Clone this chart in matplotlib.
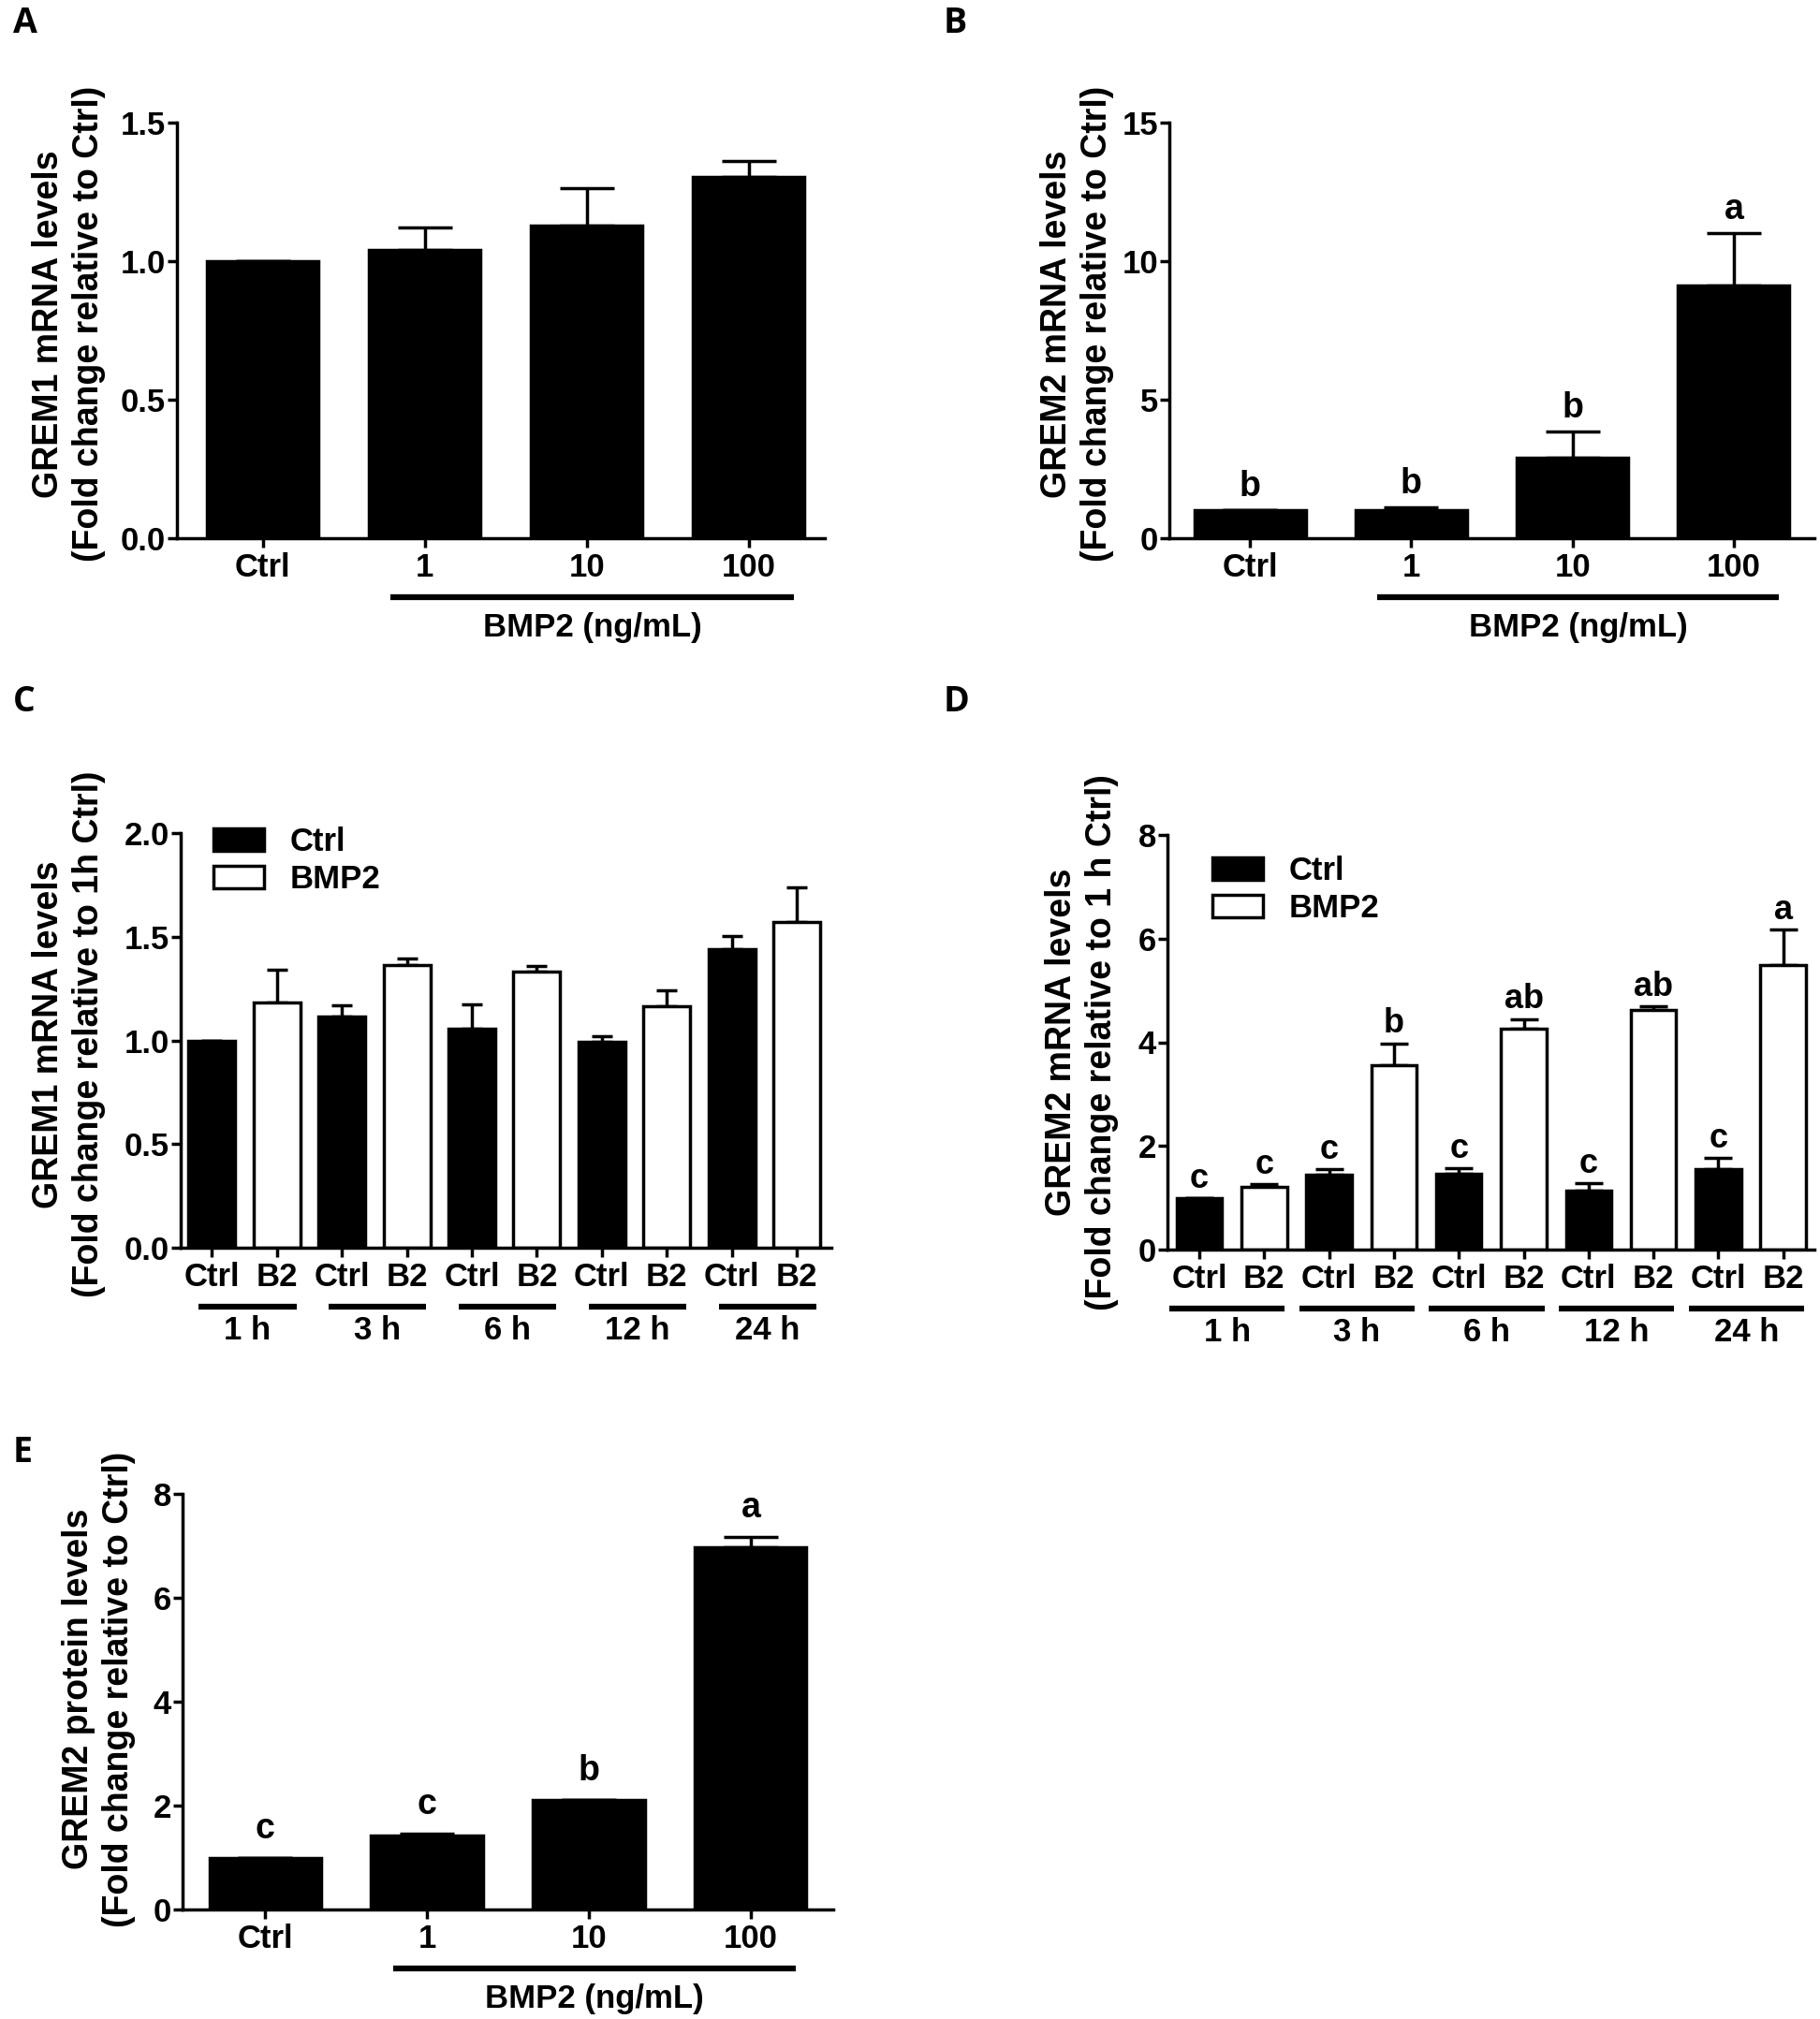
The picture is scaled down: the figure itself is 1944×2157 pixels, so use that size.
import matplotlib
matplotlib.use('Agg')
import matplotlib.pyplot as plt
import matplotlib.transforms as mtransforms
import numpy as np

plt.rcParams['font.family'] = ['Liberation Sans', 'DejaVu Sans']
plt.rcParams['font.weight'] = 'bold'
plt.rcParams['axes.labelweight'] = 'bold'

# ---- data ----
dose_labels = ['Ctrl', '1', '10', '100']

grem1_dose = [1.00, 1.04, 1.13, 1.305]
grem1_dose_err = [0.0, 0.08, 0.135, 0.055]

grem2_dose = [1.0, 1.0, 2.9, 9.13]
grem2_dose_err = [0.0, 0.12, 0.94, 1.87]
grem2_dose_sig = ['b', 'b', 'b', 'a']

time_labels = ['1 h', '3 h', '6 h', '12 h', '24 h']
pair_labels = ['Ctrl', 'B2']

grem1_ctrl = [1.00, 1.113, 1.057, 0.991, 1.44]
grem1_ctrl_err = [0.0, 0.056, 0.118, 0.031, 0.063]
grem1_bmp2 = [1.181, 1.362, 1.331, 1.163, 1.573]
grem1_bmp2_err = [0.16, 0.035, 0.026, 0.08, 0.164]

grem2_ctrl = [1.0, 1.443, 1.468, 1.144, 1.559]
grem2_ctrl_err = [0.0, 0.107, 0.099, 0.141, 0.207]
grem2_bmp2 = [1.21, 3.566, 4.262, 4.62, 5.49]
grem2_bmp2_err = [0.05, 0.414, 0.188, 0.08, 0.69]
grem2_ctrl_sig = ['c', 'c', 'c', 'c', 'c']
grem2_bmp2_sig = ['c', 'b', 'ab', 'ab', 'a']

prot_dose = [1.0, 1.424, 2.10, 6.98]
prot_dose_err = [0.0, 0.036, 0.015, 0.2]
prot_dose_sig = ['c', 'c', 'b', 'a']

W, H = 1944, 2157
LW = 2.5
TICK_FS = 25
LABEL_FS = 27


def AddAxes(fig, left, right, top, bottom):
    # pixel box -> figure fraction
    return fig.add_axes([left / W, 1 - bottom / H, (right - left) / W, (bottom - top) / H])


def StyleAxis(ax, ylim, yticks, fmt):
    ax.spines[['top', 'right']].set_visible(False)
    for s in ['left', 'bottom']:
        ax.spines[s].set_linewidth(LW)
    ax.tick_params(width=LW, length=7, labelsize=TICK_FS)
    ax.tick_params(axis='y', pad=1.5)
    ax.tick_params(axis='x', pad=4)
    ax.set_ylim(ylim)
    ax.set_yticks(yticks)
    ax.set_yticklabels([fmt.format(t) for t in yticks])


def DrawBars(ax, x, vals, errs, width, color, capsize):
    ax.bar(x, vals, width, color=color, edgecolor='black', linewidth=LW, zorder=2)
    ax.errorbar(x, vals, yerr=[np.zeros(len(errs)), errs], fmt='none', ecolor='black',
                elinewidth=LW, capsize=capsize, capthick=LW, zorder=1)


def DrawLetters(ax, x, vals, errs, letters, fs, off):
    for xi, v, e, s in zip(x, vals, errs, letters):
        ax.annotate(s, (xi, v + e), xytext=(0, off), textcoords='offset points',
                    ha='center', va='baseline', fontsize=fs)


def Bracket(ax, x0, x1, y, text, ytext, fs=TICK_FS):
    trans = mtransforms.blended_transform_factory(ax.transData, ax.transAxes)
    ax.plot([x0, x1], [y, y], color='black', lw=4.5, solid_capstyle='butt',
            transform=trans, clip_on=False)
    ax.text((x0 + x1) / 2, ytext, text, transform=trans, ha='center', va='center', fontsize=fs)


def DosePanel(ax, vals, errs, ylim, yticks, fmt, ylabel, letters=None, let_fs=26, let_off=11,
              xlim=(-0.5, 3.5), label_xy=(-0.1, 0.53)):
    x = np.arange(len(vals))
    DrawBars(ax, x, vals, errs, 0.69, 'black', 21)
    if letters:
        DrawLetters(ax, x, vals, errs, letters, let_fs, let_off)
    StyleAxis(ax, ylim, yticks, fmt)
    ax.set_xlim(xlim)
    ax.set_xticks(x)
    ax.set_xticklabels(dose_labels)
    ax.set_ylabel(ylabel, fontsize=LABEL_FS, linespacing=1.25)
    ax.yaxis.set_label_coords(*label_xy)
    Bracket(ax, 0.79, 3.28, -0.143, 'BMP2 (ng/mL)', -0.215)


def TimePanel(ax, ctrl, ctrl_err, bmp2, bmp2_err, ylim, yticks, fmt, ylabel, width, capsize,
              xlim, spans, label_xy, leg_anchor, ctrl_sig=None, bmp2_sig=None):
    xc = np.arange(len(ctrl)) * 2
    xb = xc + 1
    DrawBars(ax, xc, ctrl, ctrl_err, width, 'black', capsize)
    DrawBars(ax, xb, bmp2, bmp2_err, width, 'white', capsize)
    if ctrl_sig:
        DrawLetters(ax, xc, ctrl, ctrl_err, ctrl_sig, 26, 8)
        DrawLetters(ax, xb, bmp2, bmp2_err, bmp2_sig, 26, 8)
    StyleAxis(ax, ylim, yticks, fmt)
    ax.set_xlim(xlim)
    ticks = np.arange(len(ctrl) * 2)
    ax.set_xticks(ticks)
    ax.set_xticklabels(pair_labels * len(ctrl))
    ax.set_ylabel(ylabel, fontsize=LABEL_FS, linespacing=1.25)
    ax.yaxis.set_label_coords(*label_xy)
    for g, lab in enumerate(time_labels):
        Bracket(ax, 2 * g + spans[0], 2 * g + spans[1], -0.143, lab, -0.2)
    h1 = plt.Rectangle((0, 0), 1, 1, facecolor='black', edgecolor='black', linewidth=LW)
    h2 = plt.Rectangle((0, 0), 1, 1, facecolor='white', edgecolor='black', linewidth=LW)
    ax.legend([h1, h2], ['Ctrl', 'BMP2'], loc='upper left', bbox_to_anchor=leg_anchor,
              frameon=False, fontsize=TICK_FS, handlelength=1.55, handleheight=0.68,
              handletextpad=0.8, labelspacing=0.2, borderpad=0, borderaxespad=0)


fig = plt.figure(figsize=(W / 100, H / 100), dpi=100)

axA = AddAxes(fig, 189, 881, 131, 575)
DosePanel(axA, grem1_dose, grem1_dose_err, (0, 1.5), [0, 0.5, 1.0, 1.5], '{:.1f}',
          'GREM1 mRNA levels\n(Fold change relative to Ctrl)',
          xlim=(-0.53, 3.47), label_xy=(-0.11, 0.515))

axB = AddAxes(fig, 1249, 1938, 131, 575)
DosePanel(axB, grem2_dose, grem2_dose_err, (0, 15), [0, 5, 10, 15], '{:.0f}',
          'GREM2 mRNA levels\n(Fold change relative to Ctrl)',
          letters=grem2_dose_sig, let_fs=27, let_off=11, label_xy=(-0.085, 0.515))

axC = AddAxes(fig, 193, 888, 890, 1333)
TimePanel(axC, grem1_ctrl, grem1_ctrl_err, grem1_bmp2, grem1_bmp2_err, (0, 2.0),
          [0, 0.5, 1.0, 1.5, 2.0], '{:.1f}',
          'GREM1 mRNA levels\n(Fold change relative to 1h Ctrl)', 0.72, 8,
          (-0.48, 9.53), (-0.2, 1.3), (-0.115, 0.515), (0.05, 1.015))

axD = AddAxes(fig, 1247, 1938, 892, 1335)
TimePanel(axD, grem2_ctrl, grem2_ctrl_err, grem2_bmp2, grem2_bmp2_err, (0, 8),
          [0, 2, 4, 6, 8], '{:.0f}',
          'GREM2 mRNA levels\n(Fold change relative to 1 h Ctrl)', 0.70, 11,
          (-0.49, 9.48), (-0.46, 1.32), (-0.075, 0.5), (0.07, 0.95),
          grem2_ctrl_sig, grem2_bmp2_sig)

axE = AddAxes(fig, 195, 890, 1596, 2040)
DosePanel(axE, prot_dose, prot_dose_err, (0, 8), [0, 2, 4, 6, 8], '{:.0f}',
          'GREM2 protein levels\n(Fold change relative to Ctrl)',
          letters=prot_dose_sig, let_fs=27, let_off=15,
          xlim=(-0.51, 3.51), label_xy=(-0.072, 0.53))

for lab, (px, py) in zip('ABCDE', [(14, 25), (1008, 25), (14, 750), (1008, 750), (14, 1552)]):
    fig.text(px / W, 1 - py / H, lab, fontsize=27, fontweight='bold',
             family=['Open Sans', 'DejaVu Sans'], ha='left', va='center')

fig.savefig('out.png', dpi=100)
